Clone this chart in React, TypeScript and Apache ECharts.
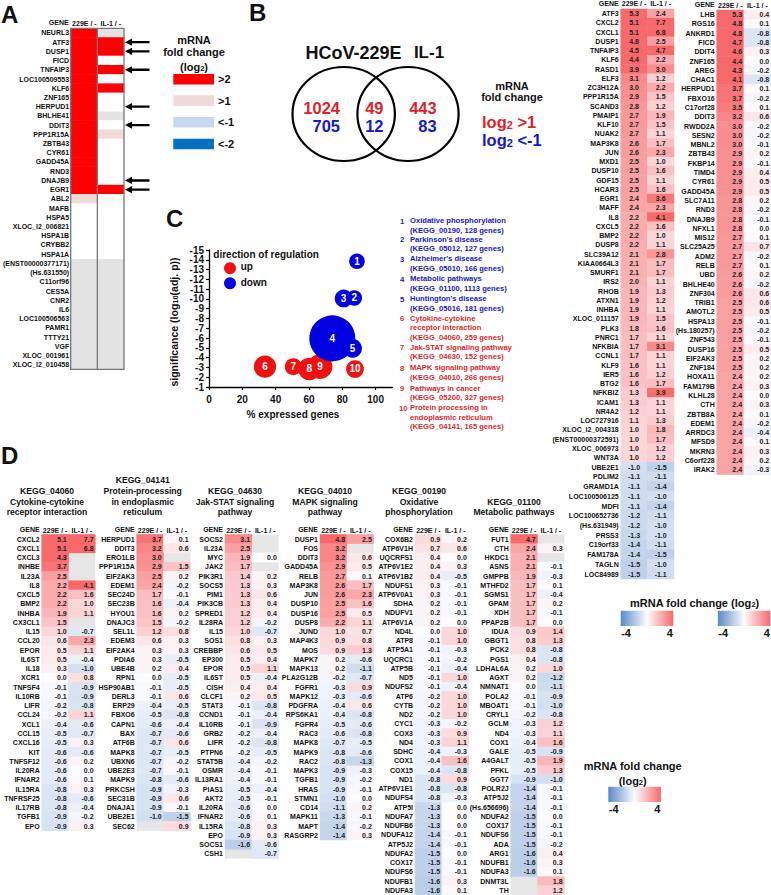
import React, { useEffect, useRef } from "react";
import * as echarts from "echarts";

const FONT = "Liberation Sans";
const COLS = ["229E / -", "IL-1 / -"];
const N: any = null;

// Panel A
const aGenes = ["NEURL3","ATF3","DUSP1","FICD","TNFAIP3","LOC100509553","KLF6","ZNF165","HERPUD1","BHLHE41","DDIT3","PPP1R15A","ZBTB43","CYR61","GADD45A","RND3","DNAJB9","EGR1","ABL2","MAFB","HSPA5","XLOC_l2_006821","HSPA1B","CRYBB2","HSPA1A","(ENST00000377171)","(Hs.631550)","C11orf96","CES5A","CNR2","IL6","LOC100506563","PAMR1","TTTY21","VGF","XLOC_001961","XLOC_l2_010458"];
const a229E = [5.4,5.3,4.8,4.7,4.5,4.4,4.4,4.4,3.7,2.6,3.2,2.9,2.9,2.9,2.9,2.8,2.8,2.4,1.9,0.5,0.5,0.5,0.5,0.5,0.5,N,N,N,N,N,N,N,N,N,N,N,N];
const aIL1 = [N,2.4,2.5,-0.8,4.7,0.5,2.2,0.0,0.1,N,0.6,1.5,0.2,0.5,0.5,-0.2,-0.1,3.6,0.5,0.5,0.5,0.5,0.5,0.5,0.5,N,N,N,N,N,N,N,N,N,N,N,N];
const arrowGenes = ["ATF3","DUSP1","TNFAIP3","HERPUD1","DDIT3","DNAJB9","EGR1"];
const aLegendLabels = [">2",">1","<-1","<-2"];
const aLegendColors = ["#ff0000","#f2d9d9","#c6d9f1","#0070c0"];

// Panel B
const vennLeft = [1024, 705];
const vennMid = [49, 12];
const vennRight = [443, 83];

// Panel C
const xTicks = [0, 20, 40, 60, 80, 100];
const yTicksOdd = [-15,-13,-11,-9,-7,-5,-3,-1];
const yTicksEven = [-14,-12,-10,-8,-6,-4,-2];
const upBubbles = [
  [33.6,-3.08,259,6],[50.6,-3.08,152,7],[60.2,-2.84,266,8],[66.6,-3.1,327,9],[87.6,-2.84,165,10],
];
const downBubbles = [
  [88.8,-13.85,128,1],[87.2,-10.1,127,2],[80.8,-10.05,166,3],[74,-5.97,1113,4],[86.2,-4.95,181,5],
];
const pathwayTexts = [
  "Oxidative phosphorylation\n(KEGG_00190, 128 genes)",
  "Parkinson's disease\n(KEGG_05012, 127 genes)",
  "Alzheimer's disease\n(KEGG_05010, 166 genes)",
  "Metabolic pathways\n(KEGG_01100, 1113 genes)",
  "Huntington's disease\n(KEGG_05016, 181 genes)",
  "Cytokine-cytokine\nreceptor interaction\n(KEGG_04060, 259 genes)",
  "Jak-STAT signaling pathway\n(KEGG_04630, 152 genes)",
  "MAPK signaling pathway\n(KEGG_04010, 266 genes)",
  "Pathways in cancer\n(KEGG_05200, 327 genes)",
  "Protein processing in\nendoplasmic reticulum\n(KEGG_04141, 165 genes)",
];
const pathwayY = [221,239.7,259,279,299,318.7,347.7,368,388.7,408];

// Right lists
const r1Genes = ["ATF3","CXCL2","CXCL1","DUSP1","TNFAIP3","KLF6","RASD1","ELF3","ZC3H12A","PPP1R15A","SCAND3","PMAIP1","KLF10","NUAK2","MAP3K8","JUN","MXD1","DUSP10","GDF15","HCAR3","EGR1","MAFF","IL8","CXCL5","BMP2","DUSP8","SLC39A12","KIAA0664L3","SMURF1","IRS2","RHOB","ATXN1","INHBA","XLOC_011157","PLK3","PNRC1","NFKBIA","CCNL1","KLF9","IER5","BTG2","NFKBIZ","ICAM1","NR4A2","LOC727916","XLOC_l2_004318","(ENST00000372591)","XLOC_006973","WNT3A"];
const r1A = [5.3,5.1,5.1,4.8,4.5,4.4,3.9,3.1,3.0,2.9,2.8,2.7,2.7,2.7,2.6,2.6,2.5,2.5,2.5,2.5,2.4,2.4,2.2,2.2,2.2,2.2,2.1,2.1,2.1,2.0,1.9,1.9,1.9,1.9,1.8,1.7,1.7,1.7,1.6,1.6,1.6,1.3,1.3,1.2,1.1,1.0,1.0,1.0,1.0];
const r1B = [2.4,7.7,6.8,2.5,4.7,2.2,3.0,1.2,2.2,1.5,1.2,1.9,1.5,1.1,1.7,2.3,1.0,1.6,1.1,1.6,3.6,2.3,4.1,1.6,1.0,1.1,2.8,1.7,1.7,1.1,1.3,1.2,1.1,1.5,1.6,1.1,3.1,1.1,1.1,1.2,1.7,3.9,1.1,1.1,1.3,1.8,1.7,1.2,1.2];
const r1DownGenes = ["UBE2E1","PDLIM2","GRAMD1A","LOC100506125","MDFI","LOC100652736","(Hs.631949)","PRSS3","C19orf33","FAM178A","TAGLN","LOC84989"];
const r1DownA = [-1.0,-1.1,-1.1,-1.1,-1.1,-1.2,-1.2,-1.3,-1.4,-1.4,-1.5,-1.5];
const r1DownB = [-1.5,-1.1,-1.4,-1.0,-1.4,-1.1,-1.0,-1.0,-1.1,-1.5,-1.0,-1.1];
const r2Genes = ["LHB","RGS16","ANKRD1","FICD","DDIT4","ZNF165","AREG","CHAC1","HERPUD1","FBXO16","C17orf28","DDIT3","RWDD2A","SESN2","MBNL2","ZBTB43","FKBP14","TIMD4","CYR61","GADD45A","SLC7A11","RND3","DNAJB9","NFXL1","MIS12","SLC25A25","ADM2","RELB","UBD","BHLHE40","ZNF304","TRIB1","AMOTL2","HSPA13","(Hs.180257)","ZNF543","DUSP16","EIF2AK3","ZNF184","HOXA11","FAM179B","KLHL28","CTH","ZBTB8A","EDEM1","ARRDC3","MFSD9","MKRN3","C6orf228","IRAK2"];
const r2A = [5.3,4.8,4.8,4.7,4.6,4.4,4.3,4.1,3.7,3.7,3.5,3.2,3.0,3.0,3.0,2.9,2.9,2.9,2.9,2.9,2.8,2.8,2.8,2.8,2.7,2.7,2.7,2.7,2.6,2.6,2.6,2.5,2.5,2.5,2.5,2.5,2.5,2.5,2.5,2.4,2.4,2.4,2.4,2.4,2.4,2.4,2.4,2.4,2.4,2.4];
const r2B = [0.4,0.1,-0.8,-0.8,0.3,0.0,-0.2,-0.8,0.1,-0.2,0.1,0.6,-0.2,-0.2,-0.1,0.2,-0.1,0.4,0.5,0.5,0.2,-0.2,-0.1,0.0,0.1,0.7,-0.2,0.1,0.2,-0.2,0.6,0.6,0.5,-0.1,-0.2,-0.1,0.5,0.2,0.2,0.2,0.3,0.0,0.3,0.1,-0.2,-0.4,0.1,0.3,0.2,-0.3];

// Panel D
const d1Genes = ["CXCL2","CXCL1","CXCL3","INHBE","IL23A","IL8","CXCL5","BMP2","INHBA","CX3CL1","IL15","CCL20","EPOR","IL6ST","IL18","XCR1","TNFSF4","IL10RB","LIFR","CCL24","XCL1","CCL15","CXCL16","KIT","TNFSF12","IL20RA","IFNAR2","IL15RA","TNFRSF25","IL17RB","TGFB1","EPO"];
const d1A = [5.1,5.1,4.3,3.7,2.5,2.2,2.2,2.2,1.9,1.5,1.0,0.6,0.5,0.5,0.3,0.0,-0.1,-0.1,-0.2,-0.2,-0.4,-0.5,-0.5,-0.6,-0.6,-0.6,-0.6,-0.8,-0.8,-0.8,-0.9,-0.9];
const d1B = [7.7,6.8,N,N,N,4.1,1.6,1.0,1.1,N,-0.7,2.3,1.1,-0.4,-1.0,0.8,-0.9,-0.9,-0.8,1.1,-0.6,-0.7,0.3,-0.6,0.2,0.0,0.1,0.3,-0.6,-0.4,-0.2,0.3];
const d2Genes = ["HERPUD1","DDIT3","ERO1LB","PPP1R15A","EIF2AK3","EDEM1","SEC24D","SEC23B","HYOU1","DNAJC3","SEL1L","EDEM3","EIF2AK4","PDIA6","UBE4B","RPN1","HSP90AB1","DERL3","ERP29","FBXO6","CAPN1","BAX","ATF6B","MAPK8","UBXN6","UBE2E3","MAPK9","PRKCSH","SEC31B","DNAJA1","UBE2E1","SEC62"];
const d2A = [3.7,3.2,3.0,2.9,2.5,2.4,1.7,1.6,1.6,1.5,1.2,0.6,0.3,0.3,0.2,0.0,-0.1,-0.1,-0.4,-0.5,-0.6,-0.7,-0.7,-0.7,-0.7,-0.7,-0.8,-0.9,-0.9,-0.9,-1.0,N];
const d2B = [0.1,0.6,N,1.5,0.2,-0.2,-0.1,-0.4,0.2,-0.2,0.8,0.3,0.3,-0.5,0.4,-0.5,-0.5,0.6,-0.5,-0.8,-0.4,-0.6,0.6,-0.5,-0.2,-0.1,-0.6,-0.3,0.6,-0.1,-1.5,0.9];
const d3Genes = ["SOCS2","IL23A","MYC","JAK2","PIK3R1","SOCS5","PIM1","PIK3CB","SPRED1","IL28RA","IL15","SOS1","CREBBP","EP300","EPOR","IL6ST","CISH","CLCF1","STAT3","CCND1","IL10RB","GRB2","LIFR","PTPN6","STAT5B","OSMR","IL13RA1","PIAS1","AKT2","IL20RA","IFNAR2","IL15RA","EPO","SOCS1","CSH1"];
const d3A = [3.1,2.5,1.9,1.7,1.4,1.3,1.3,1.3,1.2,1.2,1.0,0.8,0.6,0.5,0.5,0.5,0.4,0.2,-0.1,-0.1,-0.1,-0.2,-0.2,-0.2,-0.4,-0.4,-0.4,-0.5,-0.5,-0.6,-0.6,-0.8,-0.9,-1.6,N];
const d3B = [N,N,0.0,N,0.2,0.3,0.6,0.4,0.4,-0.2,-0.7,0.3,0.5,0.4,1.1,-0.4,0.4,0.5,-0.8,-0.4,-0.9,-0.4,-0.8,-0.5,-0.2,-0.1,-0.1,-0.4,-0.1,0.0,0.1,0.3,0.3,-0.6,-0.7];
const d4Genes = ["DUSP1","FOS","DDIT3","GADD45A","RELB","MAP3K8","JUN","DUSP10","DUSP16","DUSP8","JUND","MAP4K3","MOS","MAPK7","MAPK13","PLA2G12B","FGFR1","MAPK12","PDGFRA","RPS6KA1","FGFR4","RAC3","MAPK8","MAPK9","RAC2","MAPK3","TGFB1","HRAS","STMN1","CD14","MAPK11","MAPT","RASGRP2"];
const d4A = [4.8,3.2,3.2,2.9,2.7,2.6,2.6,2.5,2.5,2.2,1.0,0.9,0.9,0.2,0.2,-0.2,-0.3,-0.3,-0.4,-0.4,-0.5,-0.6,-0.7,-0.8,-0.8,-0.9,-0.9,-0.9,-1.0,-1.1,-1.3,-1.4,-1.4];
const d4B = [2.5,N,0.6,0.5,0.1,1.7,2.3,1.6,0.5,1.1,0.7,0.8,1.3,-0.6,-1.1,-0.7,0.9,-0.6,0.6,-0.8,-0.6,-0.8,-0.5,-0.6,-1.3,-0.3,-0.2,-0.1,0.0,0.2,-0.1,-0.2,0.3];
const d5Genes = ["COX6B2","ATP6V1H","UQCRFS1","ATP6V1E2","ATP6V1B2","NDUFS1","ATP6V0A1","SDHA","NDUFV1","ATP6V1A","ND4L","ATP8","ATP5A1","UQCRC1","ATP5B","ND5","NDUFS2","ATP6","CYTB","ND2","CYC1","COX3","ND4","SDHC","COX1","COX15","ND1","ATP6V1E1","NDUFS4","ATP5I","NDUFA7","NDUFB6","NDUFA12","ATP5J2","NDUFA2","COX17","NDUFS6","NDUFB1","NDUFA3"];
const d5A = [0.9,0.7,0.4,0.4,0.4,0.3,0.3,0.2,0.2,0.2,0.0,-0.1,-0.1,-0.1,-0.1,-0.1,-0.1,-0.2,-0.2,-0.2,-0.3,-0.3,-0.3,-0.4,-0.4,-0.4,-0.8,-0.8,-0.8,-1.3,-1.3,-1.3,-1.4,-1.4,-1.5,-1.5,-1.5,-1.6,-1.6];
const d5B = [0.2,0.6,0.0,0.3,-0.5,-0.1,-0.1,-0.1,-0.1,0.0,1.0,1.0,-0.3,-0.2,-0.4,1.0,-0.4,1.0,1.0,1.0,-0.2,0.9,1.1,-0.3,1.6,-0.8,0.9,-0.8,-0.3,0.0,0.0,0.0,-0.1,-0.1,0.0,-0.1,-0.1,0.3,0.1];
const d6Genes = ["FUT1","CTH","HKDC1","ASNS","GMPPB","MTHFD2","SGMS1","GPAM","XDH","PPAP2B","IDUA","GBGT1","PCK2","PGS1","LDHAL6A","AGXT","NMNAT1","POLA2","MBOAT1","CRYL1","GCLM","ND4","COX1","GALE","A4GALT","PFKL","GGT7","POLR2J","ATP5J2","(Hs.656696)","NDUFA2","COX17","NDUFS6","ADA","ARG1","NDUFB1","NDUFA3","DNMT3L","TH"];
const d6A = [4.7,2.4,2.1,2.1,1.9,1.7,1.7,1.7,1.7,1.7,0.9,0.8,0.8,0.4,0.2,0.2,0.0,-0.1,-0.1,-0.2,-0.3,-0.3,-0.4,-0.5,-0.5,-0.5,-0.9,-1.4,-1.4,-1.4,-1.5,-1.5,-1.5,-1.5,-1.6,-1.6,-1.6,N,N];
const d6B = [N,0.3,N,-0.1,-0.3,0.1,-0.4,0.2,-0.1,0.0,1.4,1.3,-0.8,-0.8,1.0,-1.2,-1.1,-0.9,-1.0,-0.8,1.2,1.1,1.6,-0.9,1.9,1.3,-1.0,-0.1,-0.1,-0.1,0.0,-0.1,-0.1,-0.2,0.4,0.3,0.1,1.8,1.2];

const dTitles = [
  "KEGG_04060\nCytokine-cytokine\nreceptor interaction",
  "KEGG_04141\nProtein-processing\nin endoplasmic\nreticulum",
  "KEGG_04630\nJak-STAT signaling\npathway",
  "KEGG_04010\nMAPK signaling\npathway",
  "KEGG_00190\nOxidative\nphosphorylation",
  "KEGG_01100\nMetabolic pathways",
];
const dTitleX = [47,142.7,235,325,419,514];

const RAMP = ["#5A8AC6","#FCFCFF","#F8696B"];
const ROW = 9.26;
const dTop = 534.4;

type Panel = { genes: string[]; a: any[]; b: any[]; left: number; top: number; width: number; row: number; pos: string; header: boolean; gap: number; bg: string; labels: boolean };
const dPanel = (genes: string[], a: any[], b: any[], left: number): Panel => ({ genes, a, b, left, top: dTop, width: 53.6, row: ROW, pos: "insideRight", header: true, gap: 0.5, bg: "#e6e6e6", labels: true });
const panels: Panel[] = [
  { genes: aGenes, a: a229E, b: aIL1, left: 70.7, top: 28.3, width: 53.3, row: 9.22, pos: "inside", header: true, gap: 1.6, bg: "#e3e3e3", labels: false },
  { genes: r1Genes, a: r1A, b: r1B, left: 620.7, top: 9, width: 53.3, row: 9.25, pos: "inside", header: true, gap: 2, bg: "#e6e6e6", labels: true },
  { genes: r1DownGenes, a: r1DownA, b: r1DownB, left: 620.7, top: 462.25, width: 53.3, row: 9.73, pos: "inside", header: false, gap: 2, bg: "#e6e6e6", labels: true },
  { genes: r2Genes, a: r2A, b: r2B, left: 716.7, top: 10, width: 54.3, row: 9.29, pos: "insideRight", header: true, gap: 1.3, bg: "#e6e6e6", labels: true },
  dPanel(d1Genes, d1A, d1B, 41.7),
  dPanel(d2Genes, d2A, d2B, 136.7),
  dPanel(d3Genes, d3A, d3B, 225),
  dPanel(d4Genes, d4A, d4B, 320),
  dPanel(d5Genes, d5A, d5B, 415),
  dPanel(d6Genes, d6A, d6B, 510.7),
];

const T = (x: number, y: number, text: string, o: any = {}) => ({
  type: "text", x, y, z: 100, rotation: o.rotation || 0,
  style: {
    text, align: o.align || "center", verticalAlign: o.va || "middle",
    fontFamily: FONT, fontWeight: o.weight || "bold", fontSize: o.size || 8,
    fill: o.fill || "#111", lineHeight: o.lh, rich: o.rich,
  },
});
const subRich = (size: number, sub: number, fill = "#111", weight = "bold") => ({
  a: { fontFamily: FONT, fontWeight: weight, fontSize: size, fill, lineHeight: size + 5, verticalAlign: "bottom" },
  s: { fontFamily: FONT, fontWeight: weight, fontSize: sub, fill, lineHeight: size + 5, verticalAlign: "bottom", padding: [3, 0, 0, 0] },
});

const RED = "#e01f2b";
const BLUE = "#1616cc";

function buildGraphic() {
  const g: any[] = [];
  // panel letters
  g.push(T(1, 14, "A", { align: "left", size: 24 }));
  g.push(T(249, 12.5, "B", { align: "left", size: 24 }));
  g.push(T(166, 218, "C", { align: "left", size: 24 }));
  g.push(T(1, 455, "D", { align: "left", size: 24 }));

  // "GENE" column heads, on the same line as the axis's column names
  panels.forEach((p) => {
    if (p.header) g.push(T(p.left - 2, p.top - p.gap - 4, "GENE", { align: "right", size: 7 }));
  });

  // A frame
  const A = panels[0];
  const aH = A.genes.length * A.row;
  g.push({ type: "rect", z: 90, shape: { x: A.left, y: A.top, width: A.width, height: aH }, style: { fill: "transparent", stroke: "#777", lineWidth: 1.3 } });
  g.push({ type: "line", z: 90, shape: { x1: A.left + A.width / 2, y1: A.top, x2: A.left + A.width / 2, y2: A.top + aH }, style: { stroke: "#777", lineWidth: 1.3 } });
  arrowGenes.forEach((name) => {
    const y = A.top + (A.genes.indexOf(name) + 0.5) * A.row;
    g.push({ type: "polygon", z: 100, shape: { points: [[125, y],[132, y - 3.6],[132, y - 1.2],[149.5, y - 1.2],[149.5, y + 1.2],[132, y + 1.2],[132, y + 3.6]] }, style: { fill: "#000" } });
  });
  // A legend
  g.push(T(194, 40, "mRNA", { size: 11 }));
  g.push(T(194, 52, "fold change", { size: 11 }));
  g.push(T(194, 64, "{a|(log}{s|2}{a|)}", { rich: subRich(11, 7.5) }));
  [74, 95.3, 117, 138.7].forEach((y, i) => {
    g.push({ type: "rect", z: 100, shape: { x: 173.3, y, width: 40.7, height: 10.6 }, style: { fill: aLegendColors[i] } });
    g.push(T(218, y + 5.3, aLegendLabels[i], { align: "left", size: 11 }));
  });

  // B Venn
  g.push(T(353.5, 52.7, "HCoV-229E", { size: 18 }));
  g.push(T(429, 52.7, "IL-1", { size: 17 }));
  g.push({ type: "ellipse", z: 100, shape: { cx: 343.7, cy: 114, rx: 51.2, ry: 47 }, style: { fill: "transparent", stroke: "#000", lineWidth: 2.2 } });
  g.push({ type: "ellipse", z: 100, shape: { cx: 408, cy: 114, rx: 50.6, ry: 47 }, style: { fill: "transparent", stroke: "#000", lineWidth: 2.2 } });
  g.push(T(340, 107.7, String(vennLeft[0]), { align: "right", size: 16.5, fill: RED }));
  g.push(T(340, 126, String(vennLeft[1]), { align: "right", size: 16.5, fill: BLUE }));
  g.push(T(383.5, 107.7, String(vennMid[0]), { align: "right", size: 16.5, fill: RED }));
  g.push(T(383.5, 126, String(vennMid[1]), { align: "right", size: 16.5, fill: BLUE }));
  g.push(T(436.7, 107.7, String(vennRight[0]), { align: "right", size: 16.5, fill: RED }));
  g.push(T(436.7, 126, String(vennRight[1]), { align: "right", size: 16.5, fill: BLUE }));
  g.push(T(512, 86, "mRNA", { size: 11 }));
  g.push(T(512, 97.3, "fold change", { size: 11 }));
  g.push(T(482, 120, "{a|log}{s|2}{a| >1}", { align: "left", rich: subRich(16.5, 11, RED) }));
  g.push(T(482, 138, "{a|log}{s|2}{a| <-1}", { align: "left", rich: subRich(16.5, 11, BLUE) }));

  // C legend & axis titles
  g.push(T(213.3, 254.7, "direction of regulation", { align: "left", size: 10 }));
  g.push({ type: "circle", z: 100, shape: { cx: 230, cy: 268.3, r: 6 }, style: { fill: "#f01010" } });
  g.push({ type: "circle", z: 100, shape: { cx: 230, cy: 283.3, r: 6 }, style: { fill: "#0000e0" } });
  g.push(T(240.7, 266.7, "up", { align: "left", size: 10 }));
  g.push(T(240.7, 282.7, "down", { align: "left", size: 10 }));
  g.push(T(171.5, 322, "{a|significance (log}{s|10}{a|(adj. p))}", { rotation: Math.PI / 2, rich: subRich(10.5, 7.5) }));
  g.push(T(293, 414, "% expressed genes", { size: 10 }));
  pathwayTexts.forEach((text, i) => {
    const fill = i < 5 ? BLUE : RED;
    g.push(T(i === 9 ? 399 : 400, pathwayY[i], String(i + 1), { align: "left", size: 7.6, fill }));
    g.push(T(410, pathwayY[i] - 4.65, text, { align: "left", va: "top", size: 7.6, fill, lh: 9.3 }));
  });

  // D titles
  dTitles.forEach((text, i) => {
    const lines = text.split("\n").length;
    g.push(T(dTitleX[i], 517.5 - lines * 10.6, text, { va: "top", size: 8.6, lh: 10.6 }));
  });

  // Colour bars
  const bar = (x: number, y: number) => {
    g.push({
      type: "rect", z: 100, shape: { x, y, width: 52.6, height: 15.3 },
      style: { fill: new echarts.graphic.LinearGradient(0, 0, 1, 0, [
        { offset: 0, color: RAMP[0] }, { offset: 0.5, color: RAMP[1] }, { offset: 1, color: RAMP[2] },
      ]) },
    });
    g.push(T(x + 5.4, y + 22.5, "-4", { size: 11 }));
    g.push(T(x + 49, y + 22.5, "4", { size: 11 }));
  };
  g.push(T(694.5, 600.7, "{a|mRNA fold change (log}{s|2}{a|)}", { rich: subRich(11, 7.5) }));
  bar(620.7, 610.7);
  bar(717.8, 610.7);
  g.push(T(632.7, 765.7, "mRNA fold change", { size: 11 }));
  g.push(T(632.7, 778, "{a|(log}{s|2}{a|)}", { rich: subRich(11, 7.5) }));
  bar(608.3, 786.7);
  return g;
}

function buildOption() {
  const grid: any[] = [], xAxis: any[] = [], yAxis: any[] = [], series: any[] = [];
  panels.forEach((p, i) => {
    grid.push({ left: p.left, top: p.top, width: p.width, height: p.genes.length * p.row, show: true, backgroundColor: p.bg, borderWidth: 0, containLabel: false });
    xAxis.push({
      type: "category", gridIndex: i, data: COLS, position: "top",
      axisLine: { show: false }, axisTick: { show: false }, splitLine: { show: false },
      axisLabel: { show: p.header, interval: 0, margin: p.gap, fontFamily: FONT, fontWeight: "bold", fontSize: 7, color: "#111" },
    });
    yAxis.push({
      type: "category", gridIndex: i, data: p.genes, inverse: true,
      axisLine: { show: false }, axisTick: { show: false }, splitLine: { show: false },
      axisLabel: { interval: 0, margin: 2, fontFamily: FONT, fontWeight: "bold", fontSize: 7, color: "#111" },
    });
    const data: any[] = [];
    p.genes.forEach((_, r) => {
      if (p.a[r] !== null) data.push([0, r, p.a[r]]);
      if (p.b[r] !== null) data.push([1, r, p.b[r]]);
    });
    series.push({
      type: "heatmap", xAxisIndex: i, yAxisIndex: i, data, progressive: 0, silent: true,
      label: {
        show: p.labels, position: p.pos, distance: 2,
        formatter: (o: any) => Number(o.value[2]).toFixed(1),
        fontFamily: FONT, fontWeight: "bold", fontSize: 7, color: "#222",
      },
    });
  });
  const ci = panels.length;
  const cGrid = { left: 209, top: 250, width: 183.3, height: 137, containLabel: false };
  grid.push(cGrid);
  const axisLbl = { fontFamily: FONT, fontWeight: "bold", fontSize: 10, color: "#111" };
  xAxis.push({
    type: "value", gridIndex: ci, min: 0, max: 110, interval: 20,
    axisLine: { show: true, onZero: false, lineStyle: { color: "#000", width: 1.3 } },
    axisTick: { show: true, length: 3, customValues: xTicks, lineStyle: { color: "#000", width: 1.2 } },
    axisLabel: { ...axisLbl, margin: 7, customValues: xTicks },
    splitLine: { show: false },
  });
  yAxis.push({
    type: "value", gridIndex: ci, min: -15, max: -1, interval: 1, inverse: true,
    axisLine: { show: true, onZero: false, lineStyle: { color: "#000", width: 1.3 } },
    axisTick: { show: true, length: 3, lineStyle: { color: "#000", width: 1.2 } },
    axisLabel: { ...axisLbl, margin: 5, customValues: yTicksOdd, showMinLabel: true, showMaxLabel: true },
    splitLine: { show: false },
  });
  // Second pair of axes on an identical grid: the one-unit spacing is too tight for a single
  // axis to keep every label, so the even ticks are labelled from this axis.
  grid.push({ ...cGrid });
  xAxis.push({ type: "value", gridIndex: ci + 1, min: 0, max: 110, interval: 20, show: false });
  yAxis.push({
    type: "value", gridIndex: ci + 1, min: -15, max: -1, interval: 1, inverse: true,
    axisLine: { show: false, onZero: false }, axisTick: { show: false },
    axisLabel: { ...axisLbl, margin: 5, customValues: yTicksEven, showMinLabel: true, showMaxLabel: true },
    splitLine: { show: false },
  });
  const bubble = (data: number[][], color: string) => ({
    type: "scatter", xAxisIndex: ci, yAxisIndex: ci, data, silent: true,
    symbolSize: (d: number[]) => 1.38 * Math.sqrt(d[2]),
    itemStyle: { color, opacity: 1 },
    label: { show: true, position: "inside", formatter: (o: any) => String(o.value[3]), fontFamily: FONT, fontWeight: "bold", fontSize: 10, color: "#fff" },
  });
  series.push(bubble(upBubbles, "#f01010"));
  series.push(bubble(downBubbles, "#0000e0"));
  return {
    animation: false,
    backgroundColor: "#fff",
    textStyle: { fontFamily: FONT },
    grid, xAxis, yAxis, series,
    visualMap: [
      { type: "piecewise", show: false, seriesIndex: [0], dimension: 2,
        pieces: [
          { gt: 2, color: "#ff0000" }, { gt: 1, lte: 2, color: "#f2d9d9" },
          { gte: -1, lte: 1, color: "#ffffff" }, { gte: -2, lt: -1, color: "#c6d9f1" }, { lt: -2, color: "#0070c0" },
        ] },
      { type: "continuous", show: false, seriesIndex: panels.map((_, i) => i).slice(1), dimension: 2, min: -4, max: 4, inRange: { color: RAMP } },
    ],
    graphic: { elements: buildGraphic() },
  };
}

export default function App() {
  const ref = useRef<HTMLDivElement>(null);
  useEffect(() => {
    document.body.style.margin = "0";
    const chart = echarts.init(ref.current!, undefined, { renderer: "svg" });
    chart.setOption(buildOption() as any);
    return () => chart.dispose();
  }, []);
  return <div ref={ref} style={{ width: 771, height: 895, position: "absolute", left: 0, top: 0 }} />;
}
